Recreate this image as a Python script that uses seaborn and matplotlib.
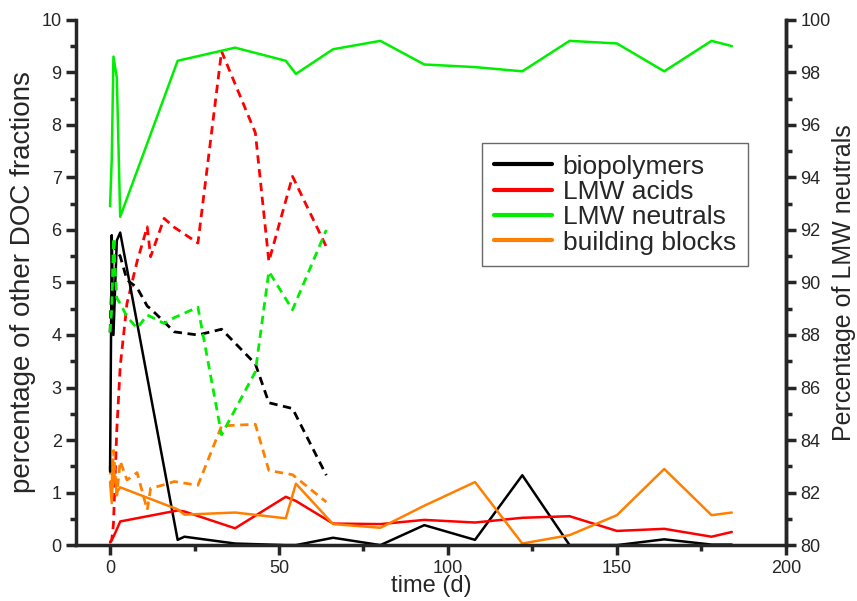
import pandas as pd
import matplotlib.pyplot as plt
import seaborn as sns
from matplotlib.ticker import MultipleLocator

# solid lines (whole run)
days_long = [0, 0.5, 1, 2, 3, 20, 22, 37, 52, 55, 66, 80, 93, 108, 122, 136, 150, 164, 178, 184]
bio_long = [1.4, 5.9, 4.0, 5.8, 5.95, 0.1, 0.16, 0.03, 0.0, 0.0, 0.14, 0.0, 0.38, 0.1, 1.33, 0.0, 0.0, 0.11, 0.01, 0.01]
acids_long = [0.05, 0.1, 0.16, 0.3, 0.45, 0.66, 0.64, 0.32, 0.92, 0.84, 0.41, 0.4, 0.48, 0.43, 0.52, 0.55, 0.27, 0.31, 0.16, 0.25]
neutrals_long = [92.9, 94.7, 98.6, 97.8, 92.5, 98.44, 98.5, 98.94, 98.44, 97.94, 98.88, 99.2, 98.3, 98.2, 98.04, 99.2, 99.1, 98.04, 99.2, 99.0]
blocks_long = [1.2, 0.8, 1.5, 1.0, 1.1, 0.68, 0.58, 0.62, 0.51, 1.17, 0.4, 0.33, 0.75, 1.2, 0.03, 0.19, 0.57, 1.45, 0.57, 0.62]

# dashed lines (first ~2 months)
days_short = [0, 0.5, 1, 2, 3, 5, 8, 11, 12, 16, 19, 26, 33, 43, 47, 54, 64]
bio_short = [4.05, 5.0, 5.7, 5.6, 5.5, 5.05, 4.9, 4.55, 4.5, 4.25, 4.06, 4.0, 4.11, 3.45, 2.71, 2.6, 1.33]
acids_short = [0.05, 0.1, 0.4, 2.2, 3.4, 4.6, 5.4, 6.06, 5.49, 6.22, 6.05, 5.75, 9.4, 7.85, 5.4, 7.02, 5.68]
neutrals_short = [88.1, 89.0, 91.7, 89.4, 89.2, 88.7, 88.26, 88.76, 88.7, 88.44, 88.66, 89.06, 84.2, 86.6, 90.42, 88.96, 92.0]
blocks_short = [1.5, 1.1, 1.8, 0.95, 1.6, 1.24, 1.38, 0.67, 1.08, 1.15, 1.21, 1.14, 2.27, 2.3, 1.42, 1.34, 0.82]

labels = ['biopolymers', 'LMW acids', 'LMW neutrals', 'building blocks']
colors = ['#000000', '#ff0000', '#00ee00', '#ff8000']

sns.set_style('ticks')
plt.rcParams['font.family'] = ['Liberation Sans', 'DejaVu Sans']

fig, ax = plt.subplots(figsize=(8.57, 6.01), dpi=100)
fig.subplots_adjust(left=0.089, right=0.917, bottom=0.093, top=0.967)
ax2 = ax.twinx()

long_df = pd.DataFrame({'day': days_long, 'bio': bio_long, 'acids': acids_long,
                        'neutrals': neutrals_long, 'blocks': blocks_long})
short_df = pd.DataFrame({'day': days_short, 'bio': bio_short, 'acids': acids_short,
                         'neutrals': neutrals_short, 'blocks': blocks_short})

# dashed first, solid on top
for col, c in zip(['bio', 'acids', 'blocks'], [colors[0], colors[1], colors[3]]):
    sns.lineplot(data=short_df, x='day', y=col, ax=ax, color=c, lw=2.0,
                 linestyle=(0, (3, 2)), legend=False)
sns.lineplot(data=short_df, x='day', y='neutrals', ax=ax2, color=colors[2], lw=2.0,
             linestyle=(0, (3, 2)), legend=False)

for col, c in zip(['bio', 'acids', 'blocks'], [colors[0], colors[1], colors[3]]):
    sns.lineplot(data=long_df, x='day', y=col, ax=ax, color=c, lw=1.8, legend=False)
sns.lineplot(data=long_df, x='day', y='neutrals', ax=ax2, color=colors[2], lw=1.8, legend=False)

ax.set_xlim(-10, 200)
ax.set_ylim(0, 10)
ax2.set_ylim(80, 100)

ax.set_xlabel('time (d)', fontsize=17, labelpad=-1)
ax.set_ylabel('percentage of other DOC fractions', fontsize=20, labelpad=4)
ax2.set_ylabel('Percentage of LMW neutrals', fontsize=18, labelpad=1)

ax.xaxis.set_major_locator(MultipleLocator(50))
ax.xaxis.set_minor_locator(MultipleLocator(25))
ax.yaxis.set_major_locator(MultipleLocator(1))
ax.yaxis.set_minor_locator(MultipleLocator(0.5))
ax2.yaxis.set_major_locator(MultipleLocator(2))
ax2.yaxis.set_minor_locator(MultipleLocator(1))

for a in (ax, ax2):
    a.spines['top'].set_visible(False)
    for s in a.spines.values():
        s.set_linewidth(2.5)
    a.tick_params(which='major', direction='out', length=7, width=2.5, labelsize=13)
    a.tick_params(which='minor', direction='out', length=4, width=2.5)
ax2.spines['left'].set_visible(False)
ax2.spines['bottom'].set_visible(False)

proxies = [plt.Line2D([], [], color=c, lw=3) for c in colors]
leg = ax.legend(proxies, labels, loc='upper left', bbox_to_anchor=(0.572, 0.766),
                borderaxespad=0, fontsize=19, frameon=True, fancybox=False,
                edgecolor='#444444', handlelength=2.2, handletextpad=0.4,
                labelspacing=0.05, borderpad=0.45)
leg.get_frame().set_linewidth(1.0)

plt.savefig('out.png', dpi=100)
plt.close()
